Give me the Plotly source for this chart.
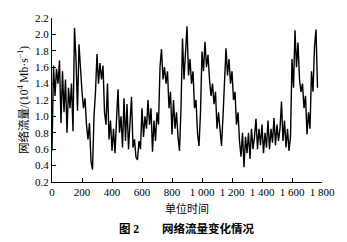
import plotly.graph_objects as go

step = 10
traffic = [
    0.58, 1.62, 1.25, 1.58, 1.40, 1.68, 0.92, 1.55, 1.05, 1.45,
    0.80, 1.35, 1.10, 1.40, 0.82, 2.08, 1.70, 1.07, 1.88, 1.55,
    1.30, 1.10, 1.22, 0.90, 0.72, 0.92, 0.45, 0.35, 1.00, 1.30,
    1.76, 1.40, 1.65, 1.45, 1.62, 1.05, 0.90, 1.40, 0.72, 0.95,
    0.58, 0.85, 0.55, 0.95, 1.33, 0.80, 1.00, 0.62, 1.22, 0.70,
    1.15, 0.60, 0.90, 1.24, 0.62, 0.72, 0.50, 0.47, 0.70, 0.60,
    1.10, 0.75, 1.00, 0.85, 1.20, 0.90, 1.10, 0.57, 0.95, 0.70,
    1.05, 0.90, 1.60, 1.82, 1.45, 1.60, 1.40, 1.55, 1.10, 1.30,
    0.78, 1.20, 0.85, 1.05, 0.75, 0.58, 1.10, 1.95, 1.45, 1.75,
    2.10, 1.50, 1.70, 1.40, 1.55, 1.10, 1.20, 0.80, 0.64, 1.05,
    1.79, 1.55, 1.91, 1.60, 1.75, 1.45, 1.25, 1.40, 1.15, 1.30,
    0.85, 1.05, 0.80, 0.64, 1.00, 1.40, 1.83, 1.50, 1.70, 1.40,
    1.55, 1.20, 1.30, 0.90, 1.05, 0.70, 0.51, 0.80, 0.38, 0.75,
    0.55, 0.80, 0.48, 0.85, 0.60, 0.75, 0.97, 0.60, 0.85, 0.65,
    0.90, 0.55, 0.80, 0.62, 0.95, 0.60, 0.85, 0.68, 0.98, 0.65,
    0.90, 0.70, 0.85, 1.18, 0.70, 0.95, 0.62, 0.85, 0.58, 0.75,
    1.70, 1.35, 2.05, 1.60, 1.90, 1.45, 1.30, 1.40, 1.10, 1.25,
    0.78, 1.05, 0.85, 1.55, 1.30, 1.85, 2.06, 1.35,
]
time = [i * step for i in range(len(traffic))]

x_tickvals = [0, 200, 400, 600, 800, 1000, 1200, 1400, 1600, 1800]
x_ticktext = ["0", "200", "400", "600", "800", "1 000", "1 200", "1 400", "1 600", "1 800"]
y_tickvals = [0.2, 0.4, 0.6, 0.8, 1.0, 1.2, 1.4, 1.6, 1.8, 2.0, 2.2]

serif = "Liberation Serif, Noto Sans CJK SC, serif"

fig = go.Figure(go.Scatter(x=time, y=traffic, mode="lines",
                           line=dict(color="black", width=1.4)))

fig.update_layout(
    width=347, height=242,
    margin=dict(l=52, r=17, t=12, b=60),
    paper_bgcolor="white", plot_bgcolor="white",
    showlegend=False,
    font=dict(family=serif, size=11, color="black"),
    xaxis=dict(range=[0, 1800], tickvals=x_tickvals, ticktext=x_ticktext,
               showline=True, linecolor="black", linewidth=1,
               ticks="inside", ticklen=4, tickcolor="black",
               showgrid=False, zeroline=False,
               tickfont=dict(size=11),
               title=dict(text="单位时间", font=dict(size=11), standoff=8)),
    yaxis=dict(range=[0.2, 2.2], tickvals=y_tickvals, tickformat=".1f",
               showline=True, linecolor="black", linewidth=1,
               ticks="inside", ticklen=4, tickcolor="black",
               showgrid=False, zeroline=False,
               tickfont=dict(size=11),
               title=dict(text="网络流量/(10<sup>4</sup> Mb·s<sup>−1</sup>)",
                          font=dict(size=11.5), standoff=4)),
)

fig.add_annotation(text="<b>图 2　　网络流量变化情况</b>",
                   xref="x domain", yref="y domain",
                   x=0.50, y=-0.285, yanchor="middle", showarrow=False,
                   font=dict(size=11.5, family=serif))

fig.write_html("out.html")
